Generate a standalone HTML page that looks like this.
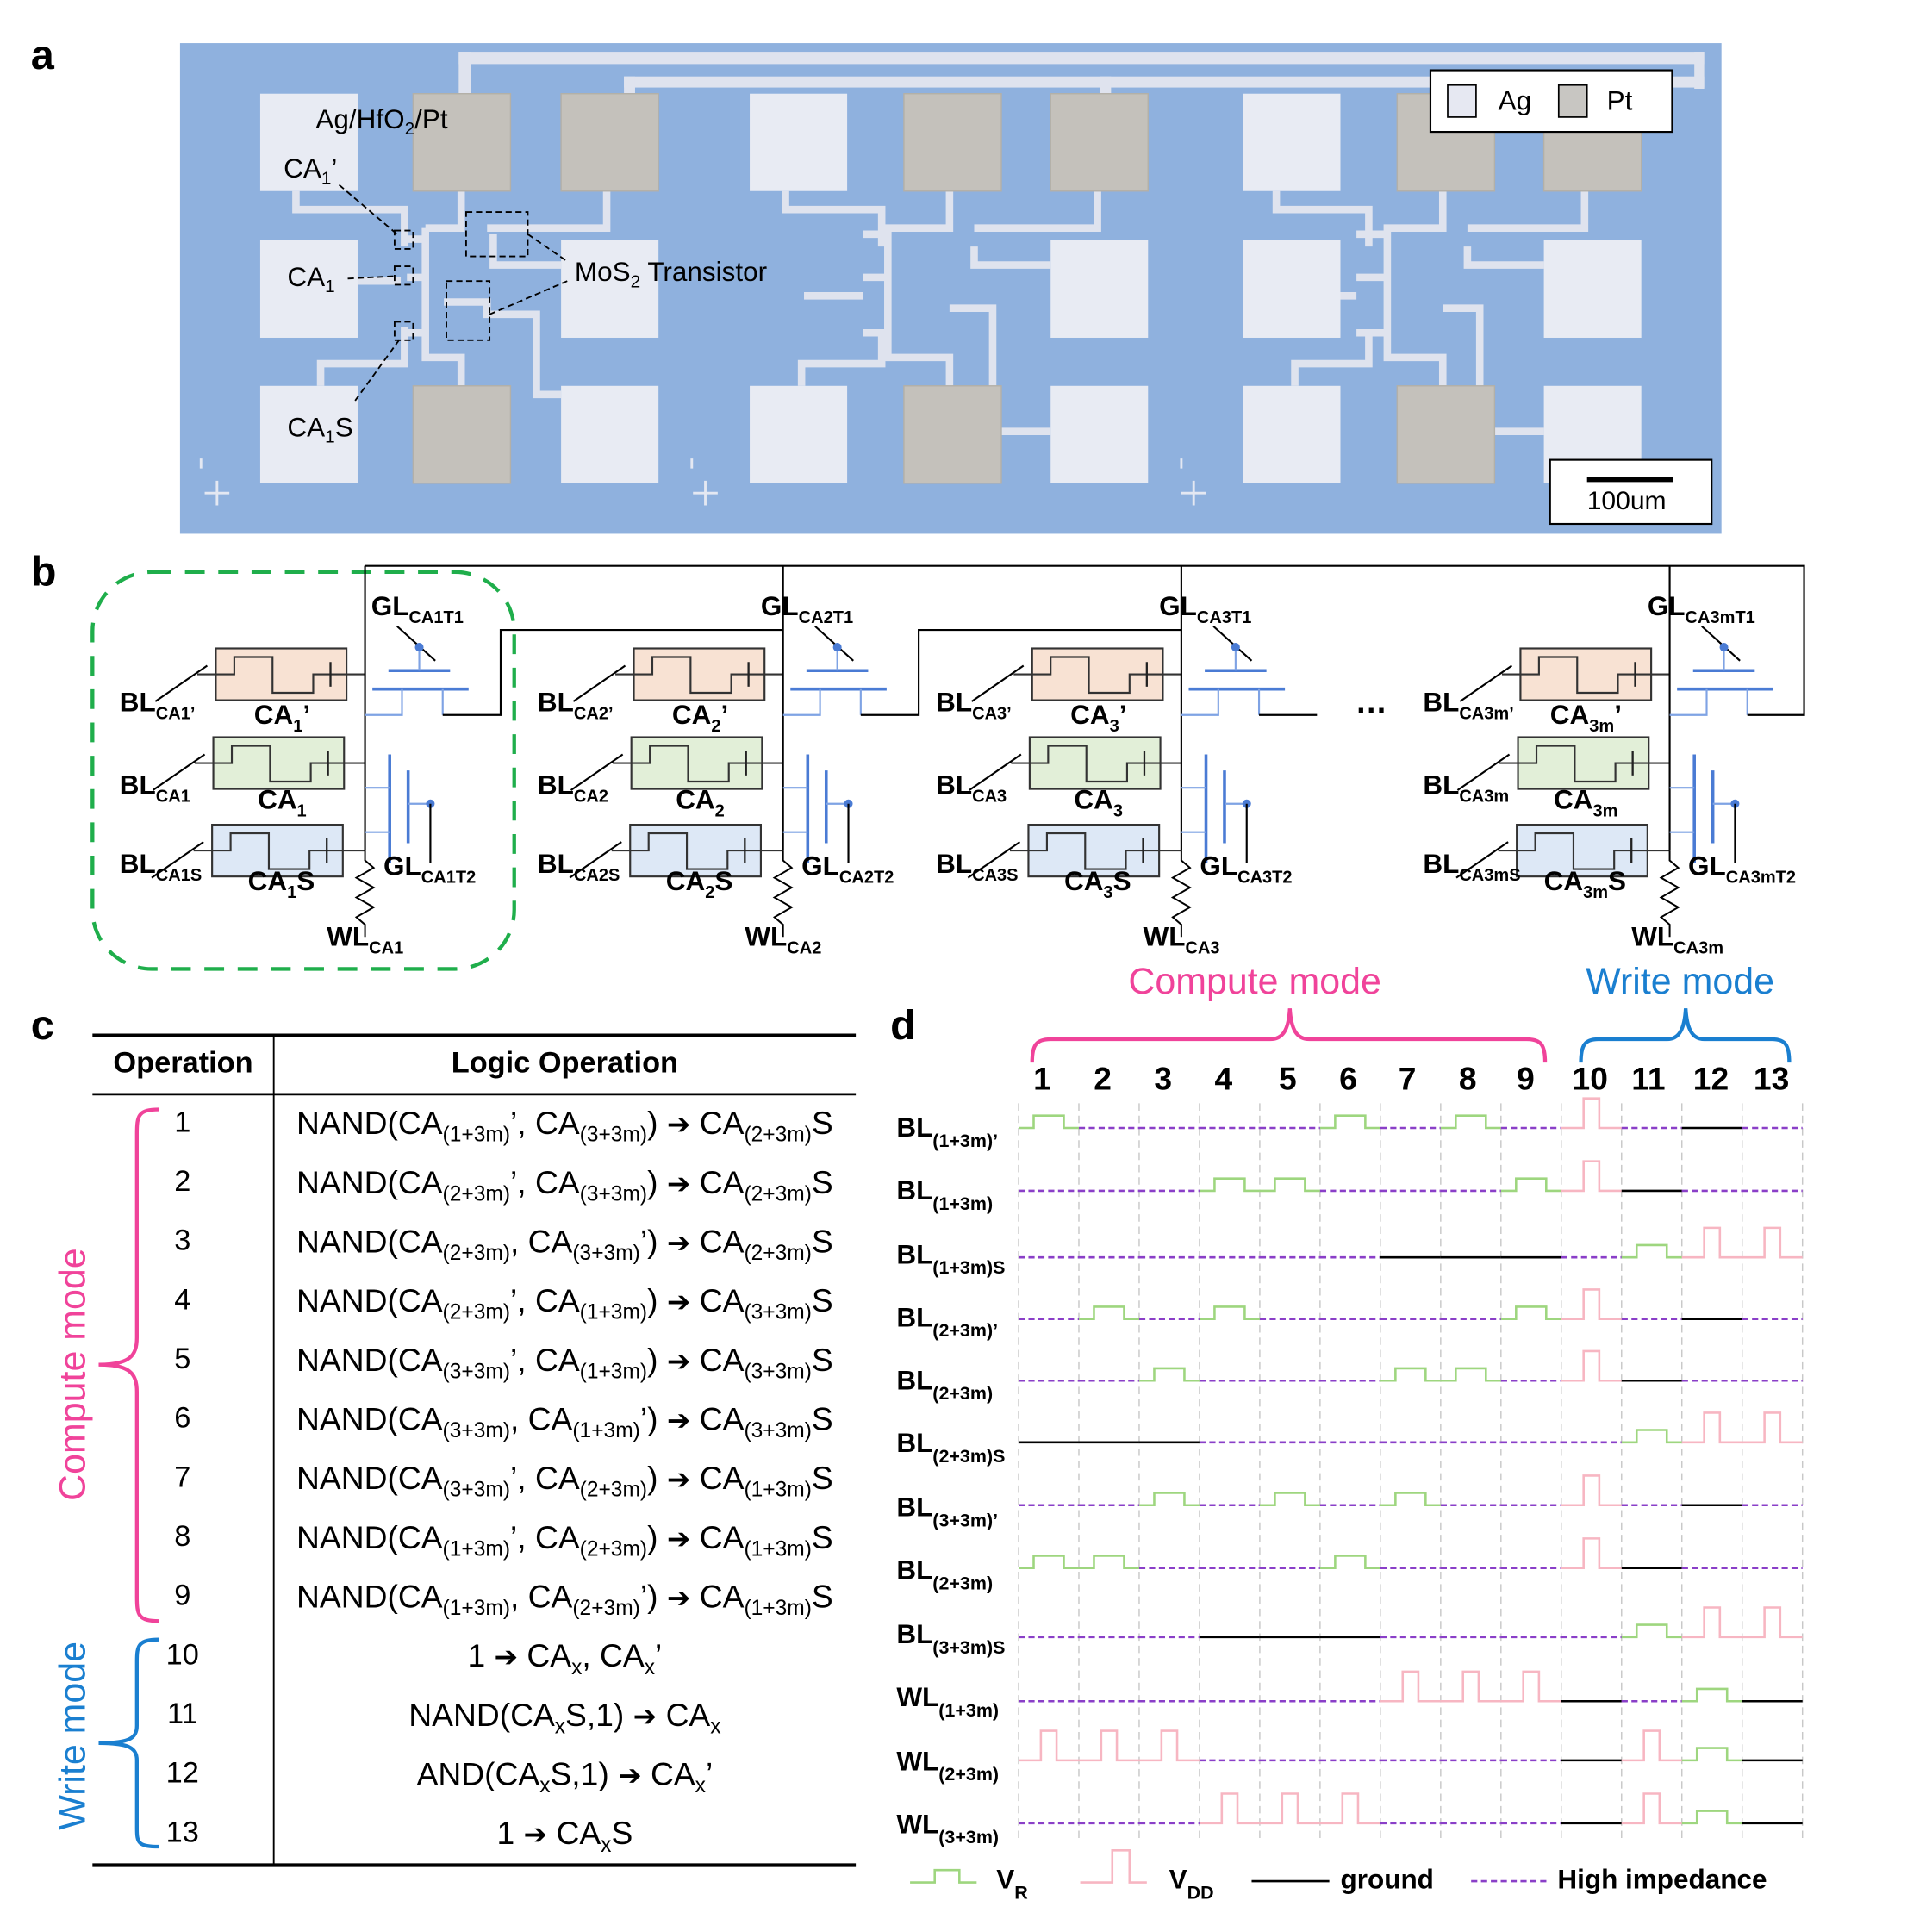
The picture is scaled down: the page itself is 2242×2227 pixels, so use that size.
<!DOCTYPE html>
<html><head><meta charset="utf-8"><style>
html,body{margin:0;padding:0;background:#fff;overflow:hidden}
#wrap{position:absolute;left:0;top:0;width:1560px;height:1550px;transform:scale(1.4310,1.4306);transform-origin:0 0;font-family:"Liberation Sans",Arial,sans-serif;color:#000}
.t{position:absolute;white-space:nowrap;line-height:1}
.b{font-weight:bold}
sub{font-size:66%;vertical-align:-0.35em;line-height:0}
.row{position:absolute;left:222px;width:472px;text-align:center;font-size:26px;white-space:nowrap;line-height:1}
.ar{font-family:"DejaVu Sans",sans-serif;font-size:23px}
.num{position:absolute;left:100px;width:96px;text-align:center;font-size:24px;line-height:1}
.dl{position:absolute;left:727px;font-weight:bold;font-size:22px;line-height:1;white-space:nowrap}
.dl sub{font-size:15px;vertical-align:-0.55em}
.cl{font-weight:bold;font-size:22px}
.cl sub{font-size:14px;vertical-align:-0.45em}
</style></head><body><div id="wrap">
<svg id="sv" width="1560" height="1550" viewBox="0 0 1560 1550" style="position:absolute;left:0;top:0">
<rect x="146" y="35" width="1250" height="398" fill="#8fb1de"/>
<g fill="#dfe3ee" stroke="none">
<rect x="372" y="42" width="1010" height="10"/><rect x="372" y="42" width="10" height="40"/>
<rect x="506" y="62" width="876" height="9"/><rect x="506" y="62" width="9" height="20"/>
<rect x="892" y="62" width="9" height="20"/>
<rect x="1374" y="42" width="8" height="30"/>
</g>
<g id="traces" fill="none" stroke="#dfe3ee" stroke-width="7"></g>
<g id="pads"></g>
<g fill="none" stroke="#000" stroke-width="1.3" stroke-dasharray="5,3">
<rect x="320" y="187" width="15" height="15"/><rect x="320" y="216" width="15" height="15"/><rect x="320" y="261" width="15" height="15"/>
<rect x="378" y="172" width="50" height="36"/><rect x="362" y="228" width="35" height="48"/>
<line x1="275" y1="150" x2="322" y2="190"/><line x1="282" y1="226" x2="320" y2="224"/><line x1="288" y1="325" x2="325" y2="274"/>
<line x1="428" y1="190" x2="460" y2="212"/><line x1="397" y1="255" x2="460" y2="228"/>
</g>
<g stroke="#e4e8f2" stroke-width="2" fill="none">
<path d="M163 380v-8M176 390v20M166 400h20M561 380v-8M572 390v20M562 400h20M958 380v-8M968 390v20M958 400h20"/>
</g>
<rect x="1160" y="57" width="196" height="50" fill="#fff" stroke="#000" stroke-width="1.5"/>
<rect x="1174" y="69" width="23" height="26" fill="#e6e8f2" stroke="#000" stroke-width="1.2"/>
<rect x="1264" y="69" width="23" height="26" fill="#c8c6c2" stroke="#000" stroke-width="1.2"/>
<rect x="1257" y="373" width="131" height="52" fill="#fff" stroke="#000" stroke-width="1.5"/>
<rect x="1287" y="387" width="70" height="4" fill="#000"/>
<rect x="75" y="464" width="342" height="322" rx="48" fill="none" stroke="#1fae4b" stroke-width="3" stroke-dasharray="16,11"/>
<g id="circ"></g>
<line x1="75" y1="840" x2="694" y2="840" stroke="#000" stroke-width="3"/>
<line x1="75" y1="888" x2="694" y2="888" stroke="#000" stroke-width="1.3"/>
<line x1="75" y1="1513" x2="694" y2="1513" stroke="#000" stroke-width="3"/>
<line x1="222" y1="840" x2="222" y2="1513" stroke="#000" stroke-width="1.3"/>
<path d="M129 900 C112 900 111 905 111 920 V1085 C111 1100 105 1107 80 1107 C105 1107 111 1114 111 1129 V1295 C111 1310 112 1315 129 1315" fill="none" stroke="#f0439a" stroke-width="3"/>
<path d="M129 1330 C112 1330 111 1335 111 1348 V1400 C111 1410 105 1414 80 1414 C105 1414 111 1418 111 1428 V1483 C111 1495 112 1498 129 1498" fill="none" stroke="#1a7fd0" stroke-width="3"/>
<path d="M837 862 C837 848 840 843 852 843 H1030 C1040 843 1045 836 1046 818 C1047 836 1052 843 1062 843 H1238 C1250 843 1253 848 1253 862" fill="none" stroke="#f0439a" stroke-width="3"/>
<path d="M1282 862 C1282 848 1285 843 1296 843 H1352 C1361 843 1366 836 1367 818 C1368 836 1373 843 1382 843 H1437 C1448 843 1451 848 1451 862" fill="none" stroke="#1a7fd0" stroke-width="3"/>
<g id="grid" stroke="#c8c8c8" stroke-width="1" stroke-dasharray="6,4"></g>
<g id="waves" fill="none" stroke-width="1.8"></g>
<g fill="none" stroke-width="1.8">
<path d="M738 1527 H758 V1517 H778 V1527 H792" stroke="#9ed67f"/>
<path d="M876 1527 H902 V1501 H916 V1527 H930" stroke="#f7b6c2"/>
<line x1="1015" y1="1526" x2="1078" y2="1526" stroke="#000"/>
<line x1="1193" y1="1526" x2="1257" y2="1526" stroke="#8a3fc8" stroke-dasharray="5,3"/>
</g>
</svg>

<div class="t b" style="left:25px;top:28px;font-size:34px">a</div>
<div class="t b" style="left:25px;top:447px;font-size:34px">b</div>
<div class="t b" style="left:25px;top:815px;font-size:34px">c</div>
<div class="t b" style="left:722px;top:815px;font-size:34px">d</div>
<div class="t" style="left:256px;top:86px;font-size:22px">Ag/HfO<sub>2</sub>/Pt</div>
<div class="t" style="left:230px;top:126px;font-size:22px">CA<sub>1</sub>’</div>
<div class="t" style="left:233px;top:214px;font-size:22px">CA<sub>1</sub></div>
<div class="t" style="left:233px;top:336px;font-size:22px">CA<sub>1</sub>S</div>
<div class="t" style="left:466px;top:210px;font-size:22px">MoS<sub>2</sub> Transistor</div>
<div class="t" style="left:1215px;top:71px;font-size:22px">Ag</div>
<div class="t" style="left:1303px;top:71px;font-size:22px">Pt</div>
<div class="t" style="left:1287px;top:396px;font-size:21px">100um</div>

<div class="t cl" style="left:97px;top:559px">BL<sub>CA1’</sub></div>
<div class="t cl" style="left:97px;top:626px">BL<sub>CA1</sub></div>
<div class="t cl" style="left:97px;top:690px">BL<sub>CA1S</sub></div>
<div class="t cl" style="left:206px;top:569px">CA<sub>1</sub>’</div>
<div class="t cl" style="left:209px;top:638px">CA<sub>1</sub></div>
<div class="t cl" style="left:201px;top:704px">CA<sub>1</sub>S</div>
<div class="t cl" style="left:301px;top:481px">GL<sub>CA1T1</sub></div>
<div class="t cl" style="left:311px;top:692px">GL<sub>CA1T2</sub></div>
<div class="t cl" style="left:265px;top:749px">WL<sub>CA1</sub></div>

<div class="t cl" style="left:436px;top:559px">BL<sub>CA2’</sub></div>
<div class="t cl" style="left:436px;top:626px">BL<sub>CA2</sub></div>
<div class="t cl" style="left:436px;top:690px">BL<sub>CA2S</sub></div>
<div class="t cl" style="left:545px;top:569px">CA<sub>2</sub>’</div>
<div class="t cl" style="left:548px;top:638px">CA<sub>2</sub></div>
<div class="t cl" style="left:540px;top:704px">CA<sub>2</sub>S</div>
<div class="t cl" style="left:617px;top:481px">GL<sub>CA2T1</sub></div>
<div class="t cl" style="left:650px;top:692px">GL<sub>CA2T2</sub></div>
<div class="t cl" style="left:604px;top:749px">WL<sub>CA2</sub></div>

<div class="t cl" style="left:759px;top:559px">BL<sub>CA3’</sub></div>
<div class="t cl" style="left:759px;top:626px">BL<sub>CA3</sub></div>
<div class="t cl" style="left:759px;top:690px">BL<sub>CA3S</sub></div>
<div class="t cl" style="left:868px;top:569px">CA<sub>3</sub>’</div>
<div class="t cl" style="left:871px;top:638px">CA<sub>3</sub></div>
<div class="t cl" style="left:863px;top:704px">CA<sub>3</sub>S</div>
<div class="t cl" style="left:940px;top:481px">GL<sub>CA3T1</sub></div>
<div class="t cl" style="left:973px;top:692px">GL<sub>CA3T2</sub></div>
<div class="t cl" style="left:927px;top:749px">WL<sub>CA3</sub></div>

<div class="t cl" style="left:1099px;top:556px;font-size:26px">…</div>
<div class="t cl" style="left:1154px;top:559px">BL<sub>CA3m’</sub></div>
<div class="t cl" style="left:1154px;top:626px">BL<sub>CA3m</sub></div>
<div class="t cl" style="left:1154px;top:690px">BL<sub>CA3mS</sub></div>
<div class="t cl" style="left:1257px;top:569px">CA<sub>3m</sub>’</div>
<div class="t cl" style="left:1260px;top:638px">CA<sub>3m</sub></div>
<div class="t cl" style="left:1252px;top:704px">CA<sub>3m</sub>S</div>
<div class="t cl" style="left:1336px;top:481px">GL<sub>CA3mT1</sub></div>
<div class="t cl" style="left:1369px;top:692px">GL<sub>CA3mT2</sub></div>
<div class="t cl" style="left:1323px;top:749px">WL<sub>CA3m</sub></div>

<div class="t b" style="left:75px;width:147px;text-align:center;top:851px;font-size:24px">Operation</div>
<div class="t b" style="left:222px;width:472px;text-align:center;top:851px;font-size:24px">Logic Operation</div>
<div class="num" style="top:899px">1</div><div class="row" style="top:898px">NAND(CA<sub>(1+3m)</sub>’, CA<sub>(3+3m)</sub>) <span class="ar">➔</span> CA<sub>(2+3m)</sub>S</div>
<div class="num" style="top:947px">2</div><div class="row" style="top:946px">NAND(CA<sub>(2+3m)</sub>’, CA<sub>(3+3m)</sub>) <span class="ar">➔</span> CA<sub>(2+3m)</sub>S</div>
<div class="num" style="top:995px">3</div><div class="row" style="top:994px">NAND(CA<sub>(2+3m)</sub>, CA<sub>(3+3m)</sub>’) <span class="ar">➔</span> CA<sub>(2+3m)</sub>S</div>
<div class="num" style="top:1043px">4</div><div class="row" style="top:1042px">NAND(CA<sub>(2+3m)</sub>’, CA<sub>(1+3m)</sub>) <span class="ar">➔</span> CA<sub>(3+3m)</sub>S</div>
<div class="num" style="top:1091px">5</div><div class="row" style="top:1090px">NAND(CA<sub>(3+3m)</sub>’, CA<sub>(1+3m)</sub>) <span class="ar">➔</span> CA<sub>(3+3m)</sub>S</div>
<div class="num" style="top:1139px">6</div><div class="row" style="top:1138px">NAND(CA<sub>(3+3m)</sub>, CA<sub>(1+3m)</sub>’) <span class="ar">➔</span> CA<sub>(3+3m)</sub>S</div>
<div class="num" style="top:1187px">7</div><div class="row" style="top:1186px">NAND(CA<sub>(3+3m)</sub>’, CA<sub>(2+3m)</sub>) <span class="ar">➔</span> CA<sub>(1+3m)</sub>S</div>
<div class="num" style="top:1235px">8</div><div class="row" style="top:1234px">NAND(CA<sub>(1+3m)</sub>’, CA<sub>(2+3m)</sub>) <span class="ar">➔</span> CA<sub>(1+3m)</sub>S</div>
<div class="num" style="top:1283px">9</div><div class="row" style="top:1282px">NAND(CA<sub>(1+3m)</sub>, CA<sub>(2+3m)</sub>’) <span class="ar">➔</span> CA<sub>(1+3m)</sub>S</div>
<div class="num" style="top:1331px">10</div><div class="row" style="top:1330px">1 <span class="ar">➔</span> CA<sub>x</sub>, CA<sub>x</sub>’</div>
<div class="num" style="top:1379px">11</div><div class="row" style="top:1378px">NAND(CA<sub>x</sub>S,1) <span class="ar">➔</span> CA<sub>x</sub></div>
<div class="num" style="top:1427px">12</div><div class="row" style="top:1426px">AND(CA<sub>x</sub>S,1) <span class="ar">➔</span> CA<sub>x</sub>’</div>
<div class="num" style="top:1475px">13</div><div class="row" style="top:1474px">1 <span class="ar">➔</span> CA<sub>x</sub>S</div>
<div class="t" style="left:60px;top:1115px;font-size:30px;color:#f0439a;transform:translate(-50%,-50%) rotate(-90deg)">Compute mode</div>
<div class="t" style="left:60px;top:1408px;font-size:30px;color:#1a7fd0;transform:translate(-50%,-50%) rotate(-90deg)">Write mode</div>

<div class="t" style="left:915px;top:782px;font-size:30px;color:#f0439a">Compute mode</div>
<div class="t" style="left:1286px;top:782px;font-size:30px;color:#1a7fd0">Write mode</div>
<div class="t b" style="left:838px;top:862px;font-size:26px">1</div>
<div class="t b" style="left:887px;top:862px;font-size:26px">2</div>
<div class="t b" style="left:936px;top:862px;font-size:26px">3</div>
<div class="t b" style="left:985px;top:862px;font-size:26px">4</div>
<div class="t b" style="left:1037px;top:862px;font-size:26px">5</div>
<div class="t b" style="left:1086px;top:862px;font-size:26px">6</div>
<div class="t b" style="left:1134px;top:862px;font-size:26px">7</div>
<div class="t b" style="left:1183px;top:862px;font-size:26px">8</div>
<div class="t b" style="left:1230px;top:862px;font-size:26px">9</div>
<div class="t b" style="left:1275px;top:862px;font-size:26px">10</div>
<div class="t b" style="left:1323px;top:862px;font-size:26px">11</div>
<div class="t b" style="left:1373px;top:862px;font-size:26px">12</div>
<div class="t b" style="left:1422px;top:862px;font-size:26px">13</div>
<div class="dl" style="top:904px">BL<sub>(1+3m)’</sub></div>
<div class="dl" style="top:955px">BL<sub>(1+3m)</sub></div>
<div class="dl" style="top:1007px">BL<sub>(1+3m)S</sub></div>
<div class="dl" style="top:1058px">BL<sub>(2+3m)’</sub></div>
<div class="dl" style="top:1109px">BL<sub>(2+3m)</sub></div>
<div class="dl" style="top:1160px">BL<sub>(2+3m)S</sub></div>
<div class="dl" style="top:1212px">BL<sub>(3+3m)’</sub></div>
<div class="dl" style="top:1263px">BL<sub>(2+3m)</sub></div>
<div class="dl" style="top:1315px">BL<sub>(3+3m)S</sub></div>
<div class="dl" style="top:1366px">WL<sub>(1+3m)</sub></div>
<div class="dl" style="top:1418px">WL<sub>(2+3m)</sub></div>
<div class="dl" style="top:1469px">WL<sub>(3+3m)</sub></div>
<div class="dl" style="left:808px;top:1514px">V<sub>R</sub></div>
<div class="dl" style="left:948px;top:1514px">V<sub>DD</sub></div>
<div class="dl" style="left:1087px;top:1514px">ground</div>
<div class="dl" style="left:1263px;top:1514px">High impedance</div>
</div>
<script>
var NS="http://www.w3.org/2000/svg";
function el(p,t,a){var e=document.createElementNS(NS,t);for(var k in a)e.setAttribute(k,a[k]);p.appendChild(e);return e;}
var pads=document.getElementById('pads');
var W='#e8ebf3',P='#c4c1bb';
[[211,76,W],[335,76,P],[455,76,P],[608,76,W],[733,76,P],[852,76,P],[1008,76,W],[1133,76,P],[1252,76,P],
 [211,195,W],[455,195,W],[852,195,W],[1008,195,W],[1252,195,W],
 [211,313,W],[335,313,P],[455,313,W],[608,313,W],[733,313,P],[852,313,W],[1008,313,W],[1133,313,P],[1252,313,W]
].forEach(function(p){el(pads,'rect',{x:p[0],y:p[1],width:79,height:79,fill:p[2],stroke:p[2]==P?'#b3b0a8':'none'});});
var tr=document.getElementById('traces');
['M240 155 V170 H328 V200','M290 228 H325','M260 313 V295 H328 V265','M374 155 V185 H345','M345 185 V290 H374 V313',
 'M492 155 V185 H395','M330 194 H345 M330 225 H345 M330 270 H345','M360 245 H395 V255 H435 V320 H455','M400 190 V215 H455',
 'M637 155 V170 H715 V200','M770 155 V185 H720 V290 H770 V313','M890 155 V185 H790','M720 190 H700 M720 225 H700 M720 270 H700','M790 200 V215 H852','M770 250 H805 V350 H852','M650 313 V295 H715 V270','M652 240 H700',
 'M1035 155 V170 H1110 V200','M1170 155 V185 H1125 V290 H1170 V313','M1285 155 V185 H1190','M1125 190 H1100 M1125 225 H1100 M1125 270 H1100','M1190 200 V215 H1252','M1170 250 H1200 V350 H1252','M1050 313 V295 H1110 V270','M1050 240 H1100'
].forEach(function(d){el(tr,'path',{d:d,'stroke-width':6});});
var c=document.getElementById('circ');
function cell(dx){
 var boxes=[[175,526,'#f8e2d3'],[173,598,'#e2efd8'],[172,669,'#dde8f6']];
 boxes.forEach(function(b){
  var x=b[0]+dx,y=b[1];
  el(c,'rect',{x:x,y:y,width:106,height:42,fill:b[2],stroke:'#333','stroke-width':1.5});
  el(c,'path',{d:'M'+(x-15)+' '+(y+21)+' H'+(x+15)+' V'+(y+7)+' H'+(x+46)+' V'+(y+36)+' H'+(x+79)+' V'+(y+21)+' H'+(296+dx),fill:'none',stroke:'#333','stroke-width':1.5});
  el(c,'line',{x1:x+93,y1:y+11,x2:x+93,y2:y+31,stroke:'#222','stroke-width':1.6});
  el(c,'line',{x1:x-49,y1:y+43,x2:x-7,y2:y+14,stroke:'#000','stroke-width':1.5});
 });
 var L='#4a7bd4';
 el(c,'line',{x1:296+dx,y1:459,x2:296+dx,y2:690,stroke:'#000','stroke-width':1.5});
 el(c,'line',{x1:315+dx,y1:544,x2:365+dx,y2:544,stroke:L,'stroke-width':2.5});
 el(c,'line',{x1:302+dx,y1:559,x2:380+dx,y2:559,stroke:L,'stroke-width':2.5});
 el(c,'path',{d:'M'+(326+dx)+' 559 V580 H'+(296+dx)+' M'+(359+dx)+' 559 V580',fill:'none',stroke:'#7fa3e4','stroke-width':1.5});
 el(c,'line',{x1:340+dx,y1:525,x2:340+dx,y2:544,stroke:'#7fa3e4','stroke-width':1.5});
 el(c,'line',{x1:322+dx,y1:508,x2:353+dx,y2:536,stroke:'#000','stroke-width':1.5});
 el(c,'circle',{cx:340+dx,cy:525,r:3.5,fill:L});
 el(c,'line',{x1:316+dx,y1:612,x2:316+dx,y2:700,stroke:L,'stroke-width':2.5});
 el(c,'line',{x1:331+dx,y1:625,x2:331+dx,y2:684,stroke:L,'stroke-width':2.5});
 el(c,'path',{d:'M'+(296+dx)+' 639 H'+(316+dx)+' M'+(296+dx)+' 675 H'+(316+dx)+' M'+(331+dx)+' 652 H'+(349+dx),fill:'none',stroke:'#7fa3e4','stroke-width':1.5});
 el(c,'circle',{cx:349+dx,cy:652,r:3.5,fill:L});
 el(c,'line',{x1:349+dx,y1:652,x2:349+dx,y2:700,stroke:'#000','stroke-width':1.5});
 var x=296+dx;
 el(c,'path',{d:'M'+x+' 690 V698 L'+(x+7)+' 704 L'+(x-7)+' 712 L'+(x+7)+' 720 L'+(x-7)+' 728 L'+(x+7)+' 736 L'+(x-7)+' 744 L'+x+' 750 V760',fill:'none',stroke:'#000','stroke-width':1.4});
}
[0,339,662,1058].forEach(cell);
el(c,'path',{d:'M359 580 H406 V511 H635 M698 580 H745 V511 H958 M1021 580 H1068 M1417 580 H1463 V459 H296',fill:'none',stroke:'#000','stroke-width':1.5});
var g=document.getElementById('grid');var x0=826,st=48.9;
for(var i=0;i<=13;i++){var xx=x0+i*st;el(g,'line',{x1:xx,y1:895,x2:xx,y2:1495});}
var rows=[[915,'RHHHHRHRHDHGH'],[966,'HHHRRHHHRDGHH'],[1020,'HHHHHHGGGHRDD'],[1070,'HRHRHHHHRDHGH'],[1120,'HHRHHHRRHDGHH'],[1170,'GGGHHHHHHHRDD'],[1221,'HHRHRHRHHDHGH'],[1272,'RRHHHRHHHDGHH'],[1328,'HHHGGGHHHHRDD'],[1380,'HHHHHHDDDGHRG'],[1428,'DDDHHHHHHGDRG'],[1479,'HHHDDDHHHGDRG']];
var wv=document.getElementById('waves');
rows.forEach(function(r){var y=r[0];for(var i=0;i<13;i++){var s=r[1][i],a=x0+i*st,b=a+st;
 if(s=='H')el(wv,'line',{x1:a,y1:y,x2:b,y2:y,stroke:'#8a3fc8','stroke-dasharray':'5,3'});
 else if(s=='G')el(wv,'line',{x1:a,y1:y,x2:b,y2:y,stroke:'#000'});
 else if(s=='R')el(wv,'path',{d:'M'+a+' '+y+'H'+(a+st*.25)+'V'+(y-10)+'H'+(a+st*.75)+'V'+y+'H'+b,stroke:'#9ed67f'});
 else el(wv,'path',{d:'M'+a+' '+y+'H'+(a+st*.37)+'V'+(y-24)+'H'+(a+st*.63)+'V'+y+'H'+b,stroke:'#f7b6c2'});
}});
</script>
</body></html>
